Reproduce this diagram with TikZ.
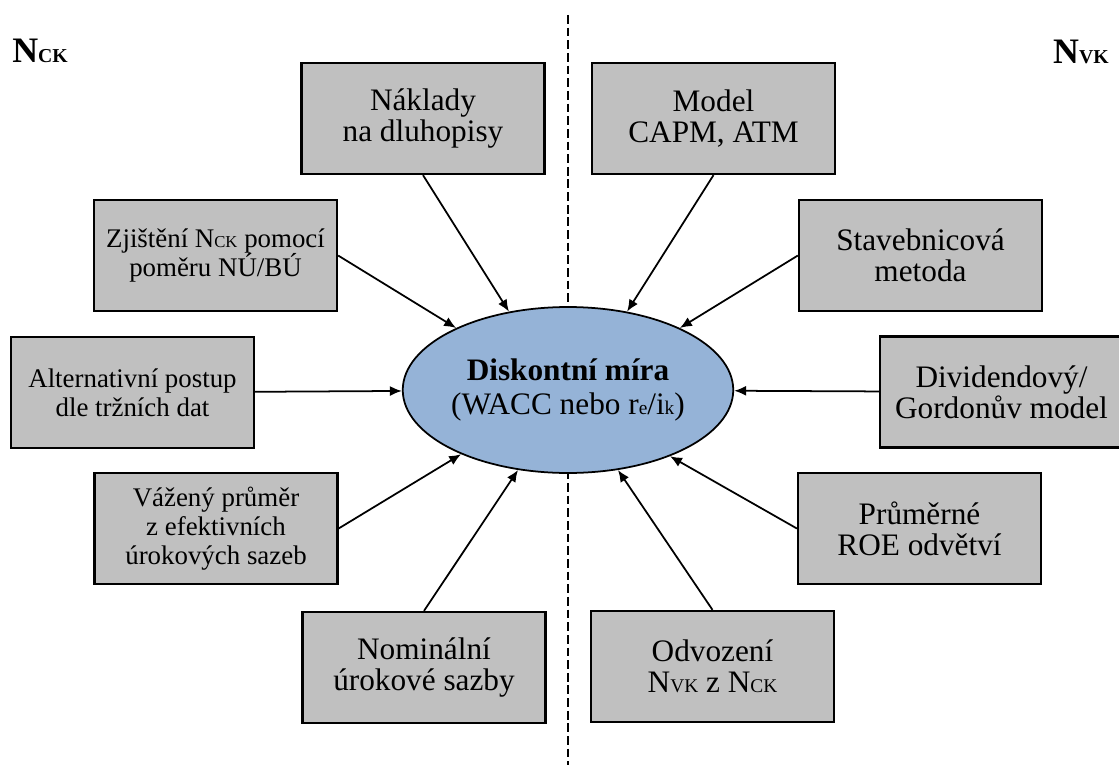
\documentclass[tikz,border=0pt]{standalone}
\usepackage{fontspec}
\setmainfont{Liberation Serif}
\usetikzlibrary{shapes, arrows.meta, backgrounds}

\definecolor{boxgray}{RGB}{192,192,192}
\definecolor{hubblue}{RGB}{149,179,215}
\newcommand{\smc}[2][0.62]{\scalebox{#1}{#2}}

\begin{document}
\begin{tikzpicture}[
        x=0.02cm, y=-0.02cm,
        box/.style={rectangle, draw, line width=1.3pt, fill=boxgray, align=center, minimum width=4.86cm, minimum height=2.22cm, inner sep=2pt, font=\fontsize{17.8pt}{17.8pt}\selectfont},
        smallbox/.style={box, font=\fontsize{15.3pt}{16.6pt}\selectfont},
        hub/.style={draw, ellipse, line width=1pt, fill=hubblue, align=center, minimum width=6.16cm, minimum height=3.32cm, inner sep=0pt, font=\fontsize{17.8pt}{19.5pt}\selectfont},
        side/.style={font=\fontsize{20.4pt}{22pt}\selectfont\bfseries, inner sep=0pt},
        line/.style={draw, -{Latex[length=2.4mm, width=2mm]}, line width=1pt},
        divider/.style={draw, dash pattern=on 5pt off 2.2pt, line width=1pt}
    ]
        \useasboundingbox (0,0) rectangle (1119,767);

        % Centre
        \node [hub] (disk) at (568,390) {\textbf{Diskontní míra}\\(WACC nebo r\smc{e}/i\smc{k})};
        \coordinate (divtop) at (568,15);
        \coordinate (divbot) at (568,765);

        \begin{scope}[on background layer]
            \path [divider] (divtop) -- (divbot);
        \end{scope}

        % Side labels
        \node [side, anchor=base west] (nck) at (12,63) {N\smc[0.55]{CK}};
        \node [side, anchor=base east] (nvk) at (1109,64) {N\smc[0.55]{VK}};

        % Left side
        \node [box] (nak) at (423,118.5) {Náklady\\na dluhopisy};
        \node [smallbox] (zj) at (215.5,255.5) {Zjištění N\smc{CK} pomocí\\poměru NÚ/BÚ};
        \node [smallbox] (alt) at (132.5,392.5) {Alternativní postup\\dle tržních dat};
        \node [smallbox] (vaz) at (216,528.5) {Vážený průměr\\z efektivních\\úrokových sazeb};
        \node [box] (nom) at (424,667.5) {Nominální\\úrokové sazby};

        \path [line] (nak.south) -- (disk.127.6);
        \path [line] (zj.east) -- (disk.151.3);
        \path [line] (alt) -- (disk);
        \path [line] (vaz.east) -- (disk.211.5);
        \path [line] (nom.north) -- (disk.238.6);

        % Right side
        \node [box] (capm) at (713.5,118.5) {Model\\CAPM, ATM};
        \node [box] (stav) at (920.5,255.5) {Stavebnicová\\metoda};
        \node [box] (div) at (1001.5,392) {Dividendový/\\Gordonův model};
        \node [box] (prum) at (919.5,528.5) {Průměrné\\ROE odvětví};
        \node [box] (odv) at (712.5,666.5) {Odvození\\N\smc{VK} z N\smc{CK}};

        \path [line] (capm.south) -- (disk.53.6);
        \path [line] (stav.west) -- (disk.29.3);
        \path [line] (div) -- (disk);
        \path [line] (prum.west) -- (disk.327.5);
        \path [line] (odv.north) -- (disk.302);

    \end{tikzpicture}
\end{document}
